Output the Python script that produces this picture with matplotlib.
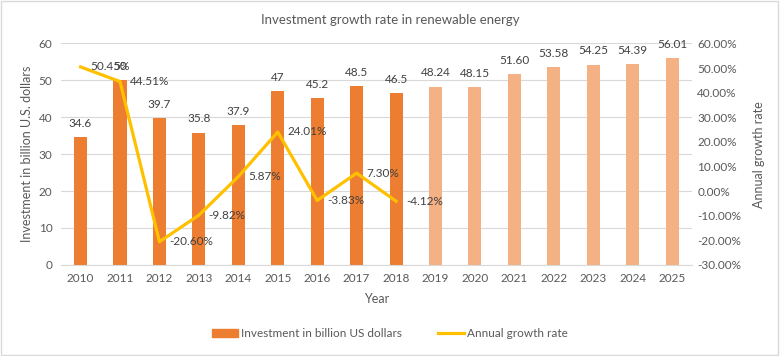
import matplotlib.pyplot as plt
from matplotlib.patches import Rectangle

plt.rcParams['font.family'] = ['Lato', 'DejaVu Sans']

# data
years = [2010, 2011, 2012, 2013, 2014, 2015, 2016, 2017, 2018,
         2019, 2020, 2021, 2022, 2023, 2024, 2025]
investment = [34.6, 50, 39.7, 35.8, 37.9, 47, 45.2, 48.5, 46.5,
              48.24, 48.15, 51.60, 53.58, 54.25, 54.39, 56.01]
inv_labels = ['34.6', '50', '39.7', '35.8', '37.9', '47', '45.2', '48.5', '46.5',
              '48.24', '48.15', '51.60', '53.58', '54.25', '54.39', '56.01']
n_actual = 9
growth_years = [2010, 2011, 2012, 2013, 2014, 2015, 2016, 2017, 2018]
growth = [50.45, 44.51, -20.60, -9.82, 5.87, 24.01, -3.83, 7.30, -4.12]

text_c = '#595959'
dark = '#ED7D31'
light = '#F4B183'
yellow = '#FFC000'

fig = plt.figure(figsize=(7.8, 3.56), dpi=100)
ax = fig.add_axes([0.078, 0.256, 0.809, 0.622])

x = list(range(len(years)))
colors = [dark] * n_actual + [light] * (len(years) - n_actual)
bars = ax.bar(x, investment, width=0.33, color=colors, zorder=2)
for i, b in enumerate(bars):
    ax.annotate(inv_labels[i], (b.get_x() + b.get_width() / 2, b.get_height()),
                xytext=(0, 6), textcoords='offset points', ha='center', va='bottom',
                fontsize=8.5, color='#404040')

ax.set_ylim(0, 60)
ax.set_yticks(range(0, 61, 10))
ax.set_xlim(-0.5, len(years) - 0.5)
ax.set_xticks(x)
ax.set_xticklabels([str(y) for y in years])
ax.grid(axis='y', color='#D9D9D9', linewidth=0.8, zorder=0)
for s in ax.spines.values():
    s.set_visible(False)
ax.spines['bottom'].set_visible(True)
ax.spines['bottom'].set_color('#D9D9D9')
ax.tick_params(length=0, colors=text_c, labelsize=8.5, pad=6)
ax.set_ylabel('Investment in billion U.S. dollars', color=text_c, fontsize=9)
ax.set_xlabel('Year', color=text_c, fontsize=9, labelpad=6)

ax2 = ax.twinx()
gx = [years.index(y) for y in growth_years]
line, = ax2.plot(gx, growth, color=yellow, linewidth=2.3, zorder=3)
for xi, g in zip(gx, growth):
    ax2.annotate(f'{g:.2f}%', (xi, g), xytext=(7, 0), textcoords='offset points',
                 ha='left', va='center', fontsize=8.5, color='#404040')
ax2.set_ylim(-30, 60)
ax2.set_yticks(range(-30, 61, 10))
ax2.set_yticklabels([f'{v:.2f}%' for v in range(-30, 61, 10)])
for s in ax2.spines.values():
    s.set_visible(False)
ax2.tick_params(length=0, colors=text_c, labelsize=8.5, pad=4)
ax2.set_ylabel('Annual growth rate', color=text_c, fontsize=9, labelpad=8)

fig.text(0.5, 0.945, 'Investment growth rate in renewable energy', ha='center',
         va='center', fontsize=9.5, color=text_c)

handles = [Rectangle((0, 0), 1, 1, color=dark), line]
fig.legend(handles, ['Investment in billion US dollars', 'Annual growth rate'],
           loc='center', bbox_to_anchor=(0.5, 0.062), ncol=2, frameon=False,
           fontsize=8.5, labelcolor=text_c, handlelength=2.2, columnspacing=3,
           handletextpad=0.3)

fig.patches.append(Rectangle((0.001, 0.002), 0.997, 0.995, transform=fig.transFigure,
                             fill=False, edgecolor='#D9D9D9', linewidth=1))

fig.savefig('out.png', dpi=100, facecolor='white')
